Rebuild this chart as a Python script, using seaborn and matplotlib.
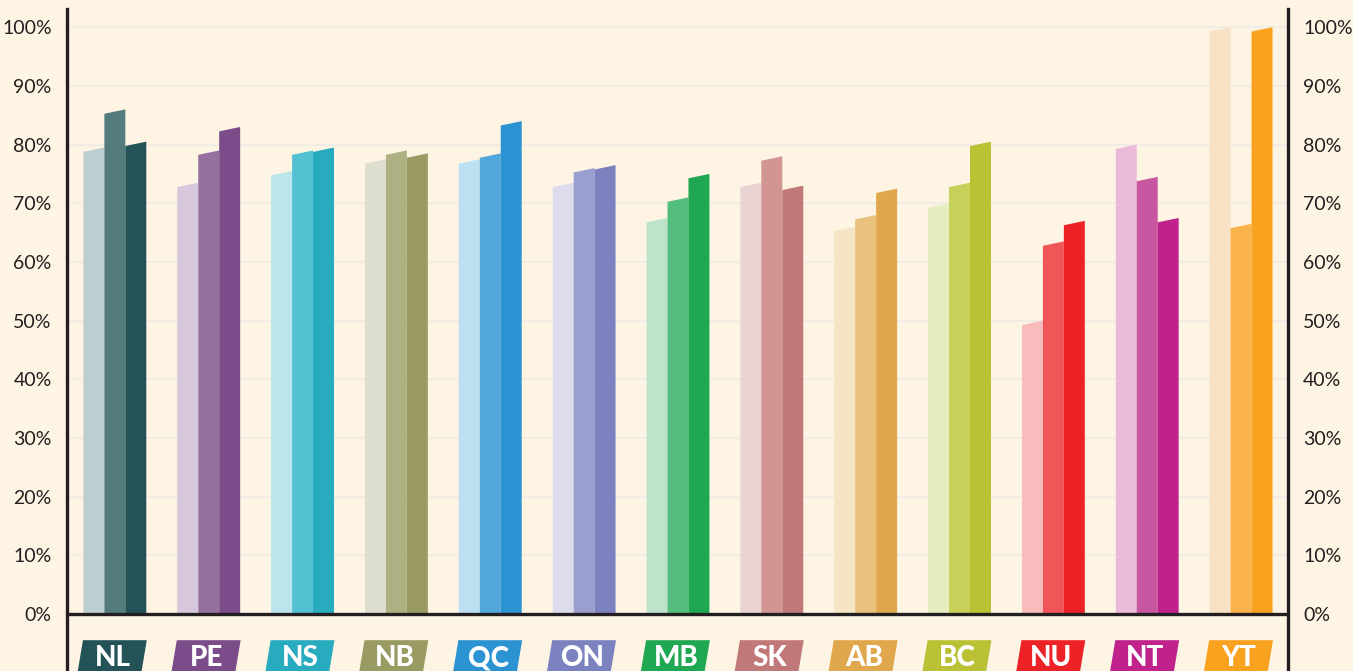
import numpy as np
import pandas as pd
import matplotlib
matplotlib.use('Agg')
import matplotlib.pyplot as plt
from matplotlib.patches import Polygon
import seaborn as sns

provinces = ['NL', 'PE', 'NS', 'NB', 'QC', 'ON', 'MB', 'SK', 'AB', 'BC', 'NU', 'NT', 'YT']
series1 = [79.5, 73.5, 75.5, 77.5, 77.5, 73.5, 67.5, 73.5, 66, 70, 50, 80, 100]
series2 = [86, 79, 79, 79, 78.5, 76, 71, 78, 68, 73.5, 63.5, 74.5, 66.5]
series3 = [80.5, 83, 79.5, 78.5, 84, 76.5, 75, 73, 72.5, 80.5, 67, 67.5, 100]

light = ['#bccfd0', '#d6c7dc', '#bce5eb', '#dfdfcf', '#bcdff1', '#dcdcec', '#bde3cb',
         '#ead3d3', '#f5e5c4', '#e6edc1', '#f8bcbc', '#ebb9d9', '#f9e1c6']
mid = ['#557c7d', '#96719e', '#54c1d3', '#adb083', '#52a7dc', '#9a9fd0', '#52bd7c',
       '#d39594', '#eac07d', '#c7d15a', '#f05658', '#c757a1', '#fab24b']
dark = ['#235257', '#7a4c8a', '#28aabf', '#999b62', '#2b93d1', '#7c82bf', '#1fa851',
        '#c17878', '#e1a74c', '#bbc135', '#ec2227', '#c0228b', '#f9a21f']

bg = '#fdf4e3'
ink = '#231f20'

df = pd.DataFrame({
    'province': provinces * 3,
    'series': ['a'] * 13 + ['b'] * 13 + ['c'] * 13,
    'value': series1 + series2 + series3,
})

sns.set_style('white')
plt.rcParams['font.family'] = ['Lato', 'DejaVu Sans']

fig = plt.figure(figsize=(13.53, 6.71), dpi=100, facecolor=bg)
ax = fig.add_axes([67 / 1353, 0, (1288 - 67) / 1353, (671 - 9) / 671])
ax.set_facecolor(bg)

sns.barplot(data=df, x='province', y='value', hue='series', order=provinces,
            width=0.67, legend=False, ax=ax, saturation=1, linewidth=0, zorder=2)

# recolour each bar and give it the slanted top
for k, cols in enumerate([light, mid, dark]):
    for i, bar in enumerate(ax.containers[k]):
        x, w, h = bar.get_x(), bar.get_width(), bar.get_height()
        bar.set_visible(False)
        ax.add_patch(Polygon([(x, 0), (x + w, 0), (x + w, h), (x, h - 0.75)],
                             closed=True, facecolor=cols[i], edgecolor='none', zorder=2))

ax.set_xlim(-0.51, 12.5)
ax.set_ylim(-9.7, 103.1)

# faint gridlines
for v in range(10, 101, 10):
    ax.axhline(v, color='#f2ede4', lw=1.5, zorder=0)
ax.axhline(0, color=ink, lw=2.4, zorder=3)

# province badges
for i, p in enumerate(provinces):
    top, bot = -4.45, -9.7
    hw, sk = 0.34, 0.055
    ax.add_patch(Polygon([(i - hw - sk, bot), (i + hw - sk, bot), (i + hw, top), (i - hw, top)],
                         closed=True, facecolor=dark[i], edgecolor='none', zorder=3, clip_on=False))
    ax.text(i - 0.02, -7.5, p, ha='center', va='center', color='white',
            fontsize=20, fontweight='black', zorder=4)

ax.set_yticks(range(0, 101, 10))
ax.set_yticklabels([f'{v}%' for v in range(0, 101, 10)])
ax.tick_params(axis='y', length=0, labelsize=14, colors=ink, labelright=True)
ax.tick_params(axis='y', which='major', left=True, pad=11)
for lab in ax.yaxis.get_ticklabels():
    lab.set_color(ink)
for t in ax.yaxis.get_major_ticks():
    t.label2.set_x(1.0)
    t.set_pad(11)
ax.set_xticks([])
ax.set_xlabel('')
ax.set_ylabel('')

for s in ['top', 'bottom']:
    ax.spines[s].set_visible(False)
for s in ['left', 'right']:
    ax.spines[s].set_visible(True)
    ax.spines[s].set_color(ink)
    ax.spines[s].set_linewidth(2.4)
    ax.spines[s].set_zorder(5)

fig.savefig('out.png', dpi=100, facecolor=bg)
